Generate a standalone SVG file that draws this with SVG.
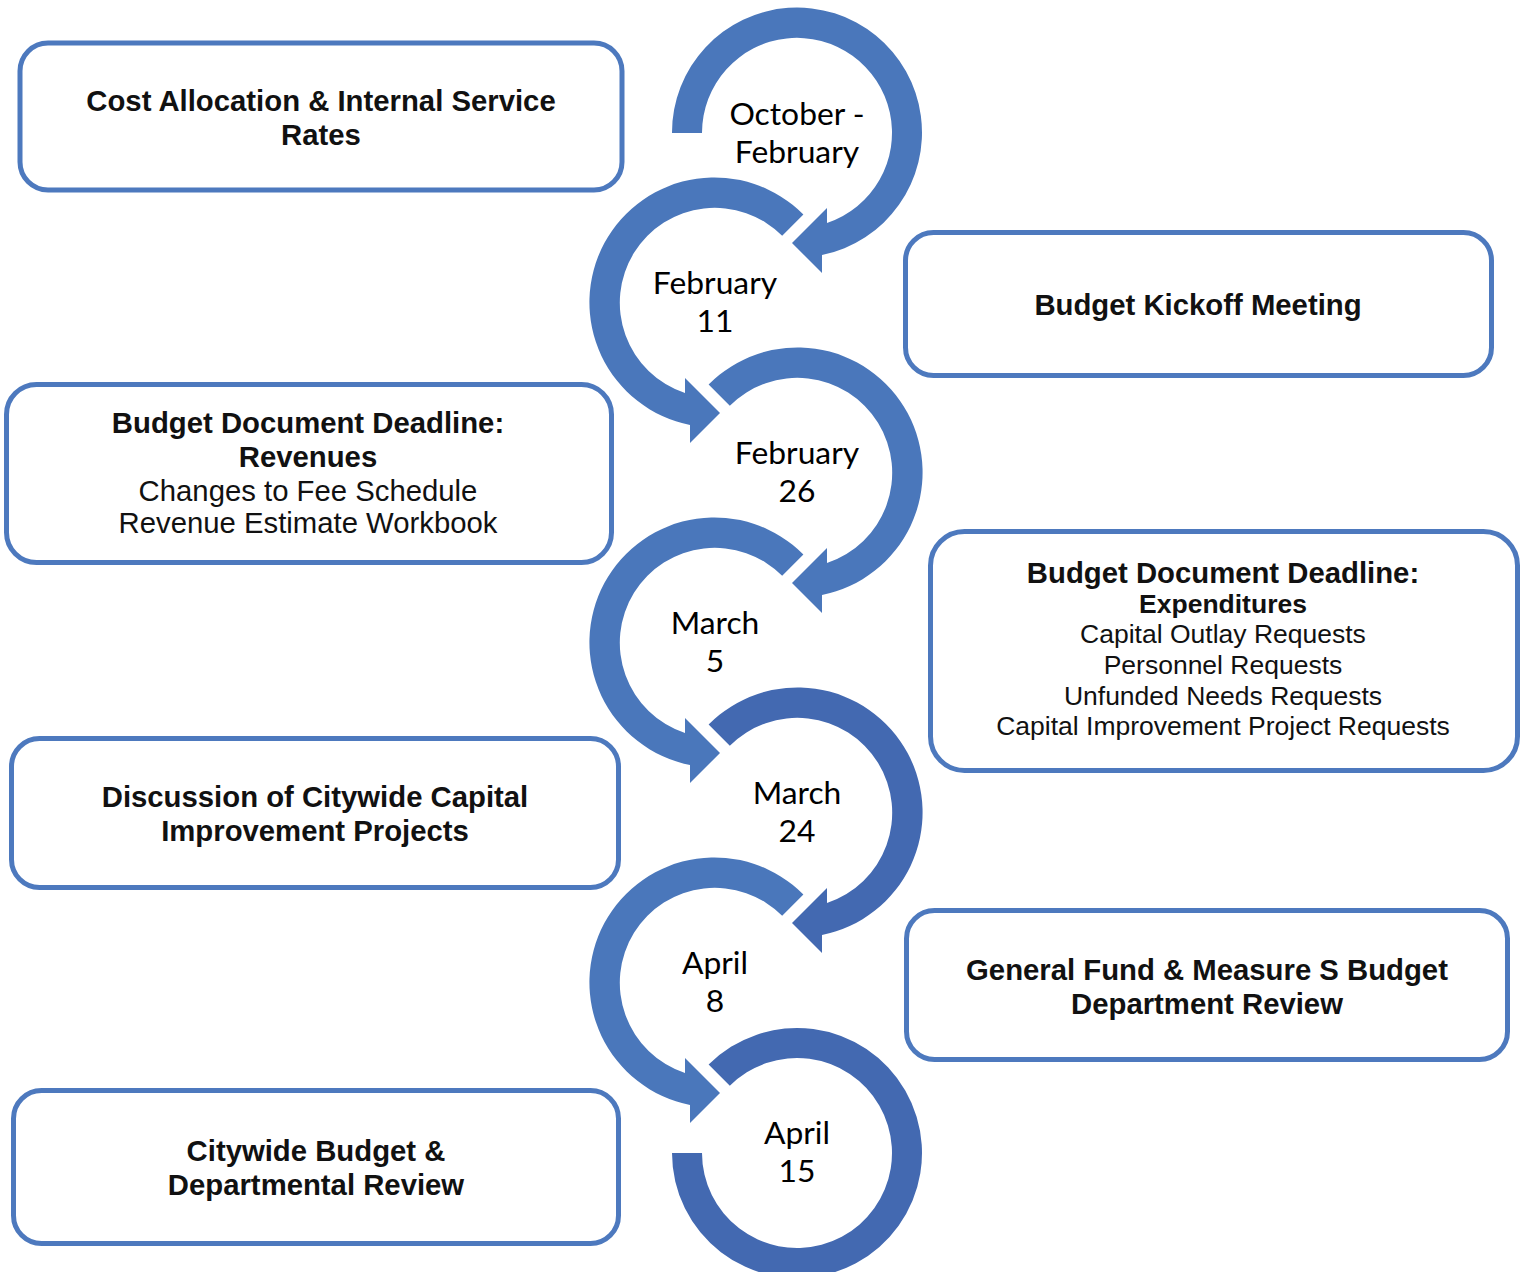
<svg xmlns="http://www.w3.org/2000/svg" width="1522" height="1272" viewBox="0 0 1522 1272">
  <style>
    .box { fill: #ffffff; stroke: #4D79BE; stroke-width: 5; }
    .t { font-family: "Liberation Sans", Arial, sans-serif; font-size: 29.3px; fill: #111111; text-anchor: middle; }
    .b { font-weight: bold; }
    .s { font-size: 26.5px; }
    .lbl { font-family: Lato, "Open Sans", sans-serif; font-size: 31.8px; fill: #000000; text-anchor: middle; }
    .arcA { fill: #4A77BB; }
    .arcB { fill: #4369B1; }
  </style>

  <!-- circular arrows: right-hand rings turn clockwise, left-hand rings counter-clockwise -->
  <g id="connectors">
    <path id="ring-oct" class="arcA" d="M 672 133 A 125 125 0 1 1 822 255 L 822 273 L 792 243 L 827 208 L 827 223 A 95 95 0 1 0 702 133 Z"/>
    <path id="ring-feb11" class="arcA" d="M 803.39 214.61 A 125 125 0 1 0 690 425 L 690 443 L 720 413 L 685 378 L 685 393 A 95 95 0 1 1 782.18 235.82 Z"/>
    <path id="ring-feb26" class="arcA" d="M 708.61 384.61 A 125 125 0 1 1 822 595 L 822 613 L 792 583 L 827 548 L 827 563 A 95 95 0 1 0 729.82 405.82 Z"/>
    <path id="ring-mar5" class="arcA" d="M 803.39 554.61 A 125 125 0 1 0 690 765 L 690 783 L 720 753 L 685 718 L 685 733 A 95 95 0 1 1 782.18 575.82 Z"/>
    <path id="ring-mar24" class="arcB" d="M 708.61 724.61 A 125 125 0 1 1 822 935 L 822 953 L 792 923 L 827 888 L 827 903 A 95 95 0 1 0 729.82 745.82 Z"/>
    <path id="ring-apr8" class="arcA" d="M 803.39 894.61 A 125 125 0 1 0 690 1105 L 690 1123 L 720 1093 L 685 1058 L 685 1073 A 95 95 0 1 1 782.18 915.82 Z"/>
    <path id="ring-apr15" class="arcB" d="M 708.61 1064.61 A 125 125 0 1 1 672 1153 L 702 1153 A 95 95 0 1 0 729.82 1085.82 Z"/>
  </g>

  <!-- date labels inside the rings -->
  <g id="date-oct"><text class="lbl" x="797" y="125">October -</text><text class="lbl" x="797" y="163">February</text></g>
  <g id="date-feb11"><text class="lbl" x="715" y="294">February</text><text class="lbl" x="715" y="332">11</text></g>
  <g id="date-feb26"><text class="lbl" x="797" y="464">February</text><text class="lbl" x="797" y="502">26</text></g>
  <g id="date-mar5"><text class="lbl" x="715" y="634">March</text><text class="lbl" x="715" y="672">5</text></g>
  <g id="date-mar24"><text class="lbl" x="797" y="804">March</text><text class="lbl" x="797" y="842">24</text></g>
  <g id="date-apr8"><text class="lbl" x="715" y="974">April</text><text class="lbl" x="715" y="1012">8</text></g>
  <g id="date-apr15"><text class="lbl" x="797" y="1144">April</text><text class="lbl" x="797" y="1182">15</text></g>

  <!-- milestone boxes -->
  <g id="cost-allocation">
    <rect class="box" x="20" y="43" width="602" height="147" rx="28"/>
    <text class="t b" x="321" y="111">Cost Allocation &amp; Internal Service</text>
    <text class="t b" x="321" y="145">Rates</text>
  </g>

  <g id="kickoff">
    <rect class="box" x="905.5" y="232.5" width="586" height="143" rx="28"/>
    <text class="t b" x="1198" y="315">Budget Kickoff Meeting</text>
  </g>

  <g id="revenues">
    <rect class="box" x="6.5" y="384.5" width="605" height="178" rx="30"/>
    <text class="t b" x="308" y="433">Budget Document Deadline:</text>
    <text class="t b" x="308" y="467">Revenues</text>
    <text class="t" x="308" y="501">Changes to Fee Schedule</text>
    <text class="t" x="308" y="533">Revenue Estimate Workbook</text>
  </g>

  <g id="expenditures">
    <rect class="box" x="930.5" y="531.5" width="587" height="239" rx="34"/>
    <text class="t b" x="1223" y="583">Budget Document Deadline:</text>
    <text class="t b s" x="1223" y="613">Expenditures</text>
    <text class="t s" x="1223" y="643">Capital Outlay Requests</text>
    <text class="t s" x="1223" y="674">Personnel Requests</text>
    <text class="t s" x="1223" y="705">Unfunded Needs Requests</text>
    <text class="t s" x="1223" y="735">Capital Improvement Project Requests</text>
  </g>

  <g id="capital-projects">
    <rect class="box" x="11.5" y="738.5" width="607" height="149" rx="28"/>
    <text class="t b" x="315" y="807">Discussion of Citywide Capital</text>
    <text class="t b" x="315" y="841">Improvement Projects</text>
  </g>

  <g id="general-fund">
    <rect class="box" x="906.5" y="910.5" width="601" height="149" rx="28"/>
    <text class="t b" x="1207" y="980">General Fund &amp; Measure S Budget</text>
    <text class="t b" x="1207" y="1014">Department Review</text>
  </g>

  <g id="citywide-review">
    <rect class="box" x="13.5" y="1090.5" width="605" height="153" rx="28"/>
    <text class="t b" x="316" y="1161">Citywide Budget &amp;</text>
    <text class="t b" x="316" y="1195">Departmental Review</text>
  </g>
</svg>
